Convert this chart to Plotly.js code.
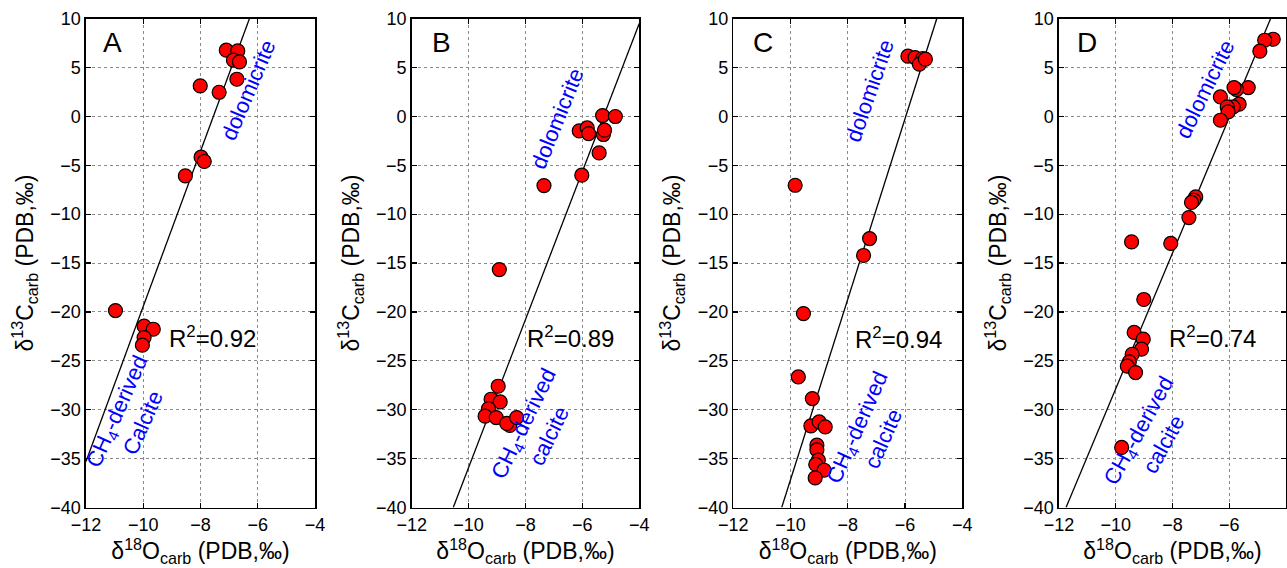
<!DOCTYPE html>
<html><head><meta charset="utf-8">
<script src="https://cdn.plot.ly/plotly-3.0.1.min.js"></script>
<style>html,body{margin:0;padding:0;background:#fff}#chart{width:1287px;height:568px}</style>
</head><body><div id="chart"></div>
<script>
// Panel labels and R² values
const panels = ['A','B','C','D'];
const r2 = ['0.92','0.89','0.94','0.74'];
const calciteWord = ['Calcite','calcite','calcite','calcite'];

// Panel A data (δ18O, δ13C)
const aX = [-7.10,-6.70,-6.85,-6.64,-6.73,-8.01,-7.35,-7.98,-7.87,-8.53,-10.97,-9.97,-9.65,-9.97,-10.03];
const aY = [6.76,6.69,5.74,5.56,3.79,3.11,2.46,-4.18,-4.62,-6.09,-19.86,-21.46,-21.77,-22.62,-23.40];
// Panel B data
const bX = [-5.29,-4.84,-6.11,-5.83,-5.78,-5.26,-5.22,-5.41,-6.02,-7.35,-8.92,-8.96,-9.21,-8.89,-9.30,-9.42,-9.03,-8.55,-8.66,-8.31];
const bY = [0.08,-0.02,-1.49,-1.19,-1.76,-1.86,-1.42,-3.74,-6.02,-7.08,-15.67,-27.6,-28.93,-29.2,-29.9,-30.66,-30.8,-31.6,-31.4,-30.8];
// Panel C data
const cX = [-5.90,-5.65,-5.38,-5.50,-5.29,-9.84,-7.24,-7.45,-9.55,-9.73,-9.24,-9.29,-9.00,-8.79,-9.08,-9.08,-9.03,-9.12,-8.83,-9.14];
const cY = [6.15,6.01,5.91,5.33,5.84,-7.05,-12.5,-14.23,-20.17,-26.65,-28.86,-31.66,-31.25,-31.76,-33.63,-34.1,-35.16,-35.6,-36.19,-36.97];
// Panel D data
const dX = [-4.45,-4.75,-4.92,-5.33,-5.74,-5.83,-6.31,-5.65,-5.86,-6.07,-6.04,-6.31,-7.18,-7.25,-7.33,-7.42,-8.06,-9.44,-9.01,-9.35,-9.03,-9.09,-9.42,-9.52,-9.59,-9.30,-9.79];
const dY = [7.88,7.78,6.66,2.94,2.74,2.94,1.98,1.24,0.96,0.96,0.45,-0.40,-8.24,-8.58,-8.81,-10.35,-13.0,-12.84,-18.73,-22.1,-22.79,-23.81,-24.33,-25.11,-25.55,-26.2,-33.86];

// Regression line end points
const aFitX = [-12, -6.29], aFitY = [-35.3, 10];
const bFitX = [-10.54, -4], bFitY = [-40, 9.5];
const cFitX = [-10.31, -4.89], cFitY = [-40, 10];
const dFitX = [-11.75, -4.54], dFitY = [-40, 10];

// Axis ticks
const xTicks = [-12,-10,-8,-6,-4];
const xTickText = ['\u221212','\u221210','\u22128','\u22126','\u22124'];
const yTicks = [10,5,0,-5,-10,-15,-20,-25,-30,-35,-40];
const yTickText = ['10','5','0','\u22125','\u221210','\u221215','\u221220','\u221225','\u221230','\u221235','\u221240'];

const xs = [aX,bX,cX,dX], ys = [aY,bY,cY,dY];
const fxs = [aFitX,bFitX,cFitX,dFitX], fys = [aFitY,bFitY,cFitY,dFitY];

// layout placement (paper fractions)
const domX = [[0.0668,0.2448],[0.3199,0.4967],[0.5698,0.7477],[0.8228,0.9992]];
const domY = [0.1065, 0.9674];
// annotation positions (data units) per panel
const labPos = [[-11.06,7.58],[-10.95,7.5],[-10.95,7.5],[-11.0,7.5]];
const r2Pos = [[-9.17,-22.6],[-8.02,-22.6],[-7.81,-22.7],[-8.20,-22.6]];
const doloPos = [[-6.34,2.67,-67],[-6.88,-0.22,-68],[-7.22,2.6,-71],[-6.86,2.74,-64]];
const ch4Pos = [[-10.46,-30.74,-66],[-7.61,-32.1,-64],[-7.20,-32.43,-66],[-8.74,-32.78,-61]];

const FONT = 'Liberation Sans, Arial, Helvetica, sans-serif';
const traces = [];
const layout = {
  width: 1287, height: 568,
  margin: {l:0, r:0, t:0, b:0},
  paper_bgcolor: '#fff', plot_bgcolor: '#fff',
  showlegend: false,
  font: {family: FONT, size: 18, color: '#000'},
  annotations: []
};

for (let i = 0; i < 4; i++) {
  const n = i === 0 ? '' : String(i+1);
  const xa = 'x' + n, ya = 'y' + n;
  traces.push({
    x: fxs[i], y: fys[i], xaxis: xa, yaxis: ya, type: 'scatter', mode: 'lines',
    line: {color: '#000', width: 1.3}, hoverinfo: 'skip'
  });
  traces.push({
    x: xs[i], y: ys[i], xaxis: xa, yaxis: ya, type: 'scatter', mode: 'markers',
    marker: {color: '#ff0000', size: 14, line: {color: '#000', width: 1.2}}
  });
  const common = {
    showline: true, linecolor: '#000', linewidth: 1.5, mirror: 'ticks',
    ticks: 'inside', ticklen: 5, tickcolor: '#000', tickwidth: 1.2,
    showgrid: true, gridcolor: '#8a8a8a', griddash: 'dot', gridwidth: 1,
    zeroline: false, tickfont: {family: FONT, size: 18, color: '#000'}
  };
  layout['xaxis' + n] = Object.assign({}, common, {
    domain: domX[i], range: [-12, -4], anchor: ya,
    tickmode: 'array', tickvals: xTicks, ticktext: xTickText,
    title: {text: '\u03b4<sup>18</sup>O<sub>carb</sub> (PDB,\u2030)', font: {family: FONT, size: 23, color: '#000'}, standoff: 6}
  });
  layout['yaxis' + n] = Object.assign({}, common, {
    domain: domY, range: [-40, 10], anchor: xa,
    tickmode: 'array', tickvals: yTicks, ticktext: yTickText,
    title: {text: '\u03b4<sup>13</sup>C<sub>carb</sub> (PDB,\u2030)', font: {family: FONT, size: 23, color: '#000'}, standoff: 10}
  });
  layout.annotations.push({
    xref: xa, yref: ya, x: labPos[i][0], y: labPos[i][1], text: panels[i],
    showarrow: false, font: {family: FONT, size: 28, color: '#000'}
  });
  layout.annotations.push({
    xref: xa, yref: ya, x: r2Pos[i][0], y: r2Pos[i][1], text: 'R<sup>2</sup>=' + r2[i],
    xanchor: 'left', yanchor: 'middle',
    showarrow: false, font: {family: FONT, size: 24, color: '#000'}
  });
  layout.annotations.push({
    xref: xa, yref: ya, x: doloPos[i][0], y: doloPos[i][1], text: 'dolomicrite',
    textangle: doloPos[i][2], showarrow: false, font: {family: FONT, size: 22, color: '#0000ff'}
  });
  layout.annotations.push({
    xref: xa, yref: ya, x: ch4Pos[i][0], y: ch4Pos[i][1], text: 'CH<sub>4</sub>-derived<br>' + calciteWord[i],
    textangle: ch4Pos[i][2], align: 'center', showarrow: false, font: {family: FONT, size: 22, color: '#0000ff'}
  });
}

Plotly.newPlot('chart', traces, layout, {staticPlot: true, displayModeBar: false});
</script>
</body></html>
